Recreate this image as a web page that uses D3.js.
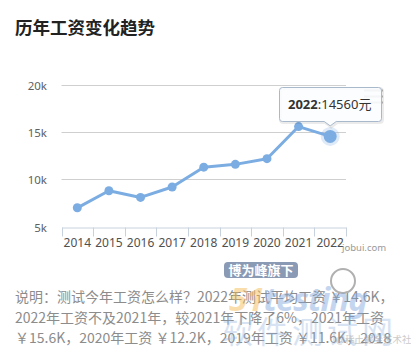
<!DOCTYPE html>
<html>
<head>
<meta charset="utf-8">
<script src="https://cdn.jsdelivr.net/npm/d3@7"></script>
<style>
  body { margin: 0; background: #fff; }
  svg { display: block; }
  text { font-family: "Noto Sans", "Noto Sans CJK SC", sans-serif; }
  .cjk { font-family: "Noto Sans CJK SC", "Noto Sans", sans-serif; }
</style>
</head>
<body>
<svg width="411" height="349"></svg>
<script>
// ***********************************
// Data

var years = ["2014", "2015", "2016", "2017", "2018", "2019", "2020", "2021", "2022"];
var salaries = [7000, 8800, 8100, 9200, 11300, 11600, 12200, 15600, 14560];
var yTicks = [5000, 10000, 15000, 20000];
var hoverIndex = 8; // the point with the tooltip (2022)

var title = "历年工资变化趋势";
var noteLines = [
  "说明：测试今年工资怎么样？2022年测试平均工资 ￥14.6K，",
  "2022年工资不及2021年，较2021年下降了6%，2021年工资",
  "￥15.6K，2020年工资 ￥12.2K，2019年工资 ￥11.6K，2018"
];

// ***********************************
// Basic setup

var svg = d3.select("svg"),
  width = +svg.attr("width"),
  height = +svg.attr("height");

var lineColor = "#7cade2";

var x = d3.scaleBand()
  .domain(years)
  .range([61.5, 346]);

var y = d3.scaleLinear()
  .domain([5000, 20000])
  .range([226.7, 85]);

// Title
svg.append("text")
  .attr("class", "cjk")
  .attr("x", 15)
  .attr("y", 34)
  .attr("font-size", "17.5px")
  .attr("font-weight", "bold")
  .attr("fill", "#222")
  .text(title);

// ***********************************
// Grid and axes

var gGrid = svg.append("g");
gGrid.selectAll("line")
  .data(yTicks.filter(function(d) { return d > 5000; }))
  .enter().append("line")
  .attr("x1", 61.5)
  .attr("x2", 346)
  .attr("y1", function(d) { return Math.round(y(d)) + 0.5; })
  .attr("y2", function(d) { return Math.round(y(d)) + 0.5; })
  .attr("stroke", "#cfcfcf")
  .attr("stroke-width", 1);

// y labels
svg.append("g").selectAll("text")
  .data(yTicks)
  .enter().append("text")
  .attr("x", 47)
  .attr("y", function(d) { return y(d) + 5; })
  .attr("text-anchor", "end")
  .attr("font-size", "11.5px")
  .attr("fill", "#606060")
  .text(function(d) { return (d / 1000) + "k"; });

// x axis: baseline, ticks between categories, labels
var xAxis = d3.axisBottom(x).tickSize(0).tickPadding(9);
var gX = svg.append("g")
  .attr("transform", "translate(0," + (Math.round(y(5000)) + 0.5) + ")")
  .call(xAxis);
gX.select(".domain").attr("stroke", "#c8d2de");
gX.selectAll("text")
  .attr("font-family", "Noto Sans, sans-serif")
  .attr("font-size", "12px")
  .attr("fill", "#505050")
  .attr("dy", "0.9em");

var edges = years.map(function(d) { return x(d); }).concat([x.range()[1]]);
gX.selectAll(".edge")
  .data(edges)
  .enter().append("line")
  .attr("class", "edge")
  .attr("x1", function(d) { return Math.round(d) + 0.5; })
  .attr("x2", function(d) { return Math.round(d) + 0.5; })
  .attr("y1", 0)
  .attr("y2", 9)
  .attr("stroke", "#c8d2de");

// credits
svg.append("text")
  .attr("x", 342)
  .attr("y", 250.5)
  .attr("font-size", "9.5px")
  .attr("fill", "#999")
  .text("jobui.com");

// ***********************************
// Series

var cx = function(i) { return x(years[i]) + x.bandwidth() / 2; };

var line = d3.line()
  .x(function(d, i) { return cx(i); })
  .y(function(d) { return y(d); });

svg.append("path")
  .datum(salaries)
  .attr("d", line)
  .attr("fill", "none")
  .attr("stroke", lineColor)
  .attr("stroke-width", 3)
  .attr("stroke-linejoin", "round");

// halo around the hovered point
svg.append("circle")
  .attr("cx", cx(hoverIndex))
  .attr("cy", y(salaries[hoverIndex]))
  .attr("r", 9.5)
  .attr("fill", lineColor)
  .attr("opacity", 0.25);

svg.append("g").selectAll("circle")
  .data(salaries)
  .enter().append("circle")
  .attr("cx", function(d, i) { return cx(i); })
  .attr("cy", function(d) { return y(d); })
  .attr("r", function(d, i) { return i === hoverIndex ? 6.5 : 4.5; })
  .attr("fill", lineColor);

// ***********************************
// Export menu icon (sits under the tooltip)

var gMenu = svg.append("g");
[90.5, 96.5, 102.5].forEach(function(yy) {
  gMenu.append("line")
    .attr("x1", 364).attr("x2", 383)
    .attr("y1", yy).attr("y2", yy)
    .attr("stroke", "#b8b8b8")
    .attr("stroke-width", 2);
});

// ***********************************
// Tooltip

var tipX = cx(hoverIndex), tipY = y(salaries[hoverIndex]) - 10.5;
var bx0 = 279.5, bx1 = 381.5, by0 = 87.5, by1 = 121.5, r = 3;
var tipPath = "M" + (bx0 + r) + "," + by0 +
  " L" + (bx1 - r) + "," + by0 + " Q" + bx1 + "," + by0 + " " + bx1 + "," + (by0 + r) +
  " L" + bx1 + "," + (by1 - r) + " Q" + bx1 + "," + by1 + " " + (bx1 - r) + "," + by1 +
  " L" + (tipX + 6) + "," + by1 + " L" + tipX + "," + tipY + " L" + (tipX - 6) + "," + by1 +
  " L" + (bx0 + r) + "," + by1 + " Q" + bx0 + "," + by1 + " " + bx0 + "," + (by1 - r) +
  " L" + bx0 + "," + (by0 + r) + " Q" + bx0 + "," + by0 + " " + (bx0 + r) + "," + by0 + " Z";

var gTip = svg.append("g");
gTip.append("path")
  .attr("d", tipPath)
  .attr("transform", "translate(1,1)")
  .attr("fill", "none")
  .attr("stroke", "#000")
  .attr("stroke-opacity", 0.08)
  .attr("stroke-width", 3);
gTip.append("path")
  .attr("d", tipPath)
  .attr("fill", "#fbfdff")
  .attr("fill-opacity", 0.88)
  .attr("stroke", "#a9b9cc")
  .attr("stroke-width", 1);

var tipText = gTip.append("text")
  .attr("x", 288)
  .attr("y", 108.5)
  .attr("font-size", "13px")
  .attr("fill", "#333");
tipText.append("tspan").attr("font-weight", "bold").text(years[hoverIndex]);
tipText.append("tspan").text(":" + salaries[hoverIndex]);
tipText.append("tspan").attr("class", "cjk").text("元");

// ***********************************
// Description below the chart

svg.append("g").selectAll("text")
  .data(noteLines)
  .enter().append("text")
  .attr("class", "cjk")
  .attr("x", 15)
  .attr("y", function(d, i) { return 302 + i * 20.5; })
  .attr("font-size", "14px")
  .attr("fill", "#8c8c8c")
  .text(function(d) { return d; });

// ***********************************
// Watermarks over the note

var gMark = svg.append("g");
gMark.append("rect")
  .attr("x", 224).attr("y", 262)
  .attr("width", 74).attr("height", 16)
  .attr("rx", 4)
  .attr("fill", "#8a9ab4");
gMark.append("text")
  .attr("class", "cjk")
  .attr("x", 261).attr("y", 275)
  .attr("text-anchor", "middle")
  .attr("font-size", "13px")
  .attr("font-weight", "bold")
  .attr("fill", "#fff")
  .text("博为峰旗下");
gMark.append("circle")
  .attr("cx", 343).attr("cy", 281).attr("r", 12)
  .attr("fill", "#fff").attr("fill-opacity", 0.5)
  .attr("stroke", "#b0b0b0").attr("stroke-width", 2);
var logo = gMark.append("text")
  .attr("x", 229).attr("y", 311)
  .attr("font-size", "33px")
  .attr("font-weight", "bold")
  .attr("font-style", "italic")
  .attr("letter-spacing", "-1px")
  .attr("opacity", 0.45);
logo.append("tspan").attr("fill", "#f2b84a").text("51");
logo.append("tspan").attr("fill", "#7ea6dc").text("testing");
gMark.append("text")
  .attr("class", "cjk")
  .attr("x", 222).attr("y", 343)
  .attr("font-size", "31px")
  .attr("letter-spacing", "4px")
  .attr("fill", "#8fb0dc")
  .attr("opacity", 0.35)
  .text("软件测试网");
gMark.append("text")
  .attr("class", "cjk")
  .attr("x", 336).attr("y", 343)
  .attr("font-size", "9.5px")
  .attr("fill", "#aaa")
  .attr("opacity", 0.6)
  .text("@稀土掘金技术社区");
</script>
</body>
</html>
